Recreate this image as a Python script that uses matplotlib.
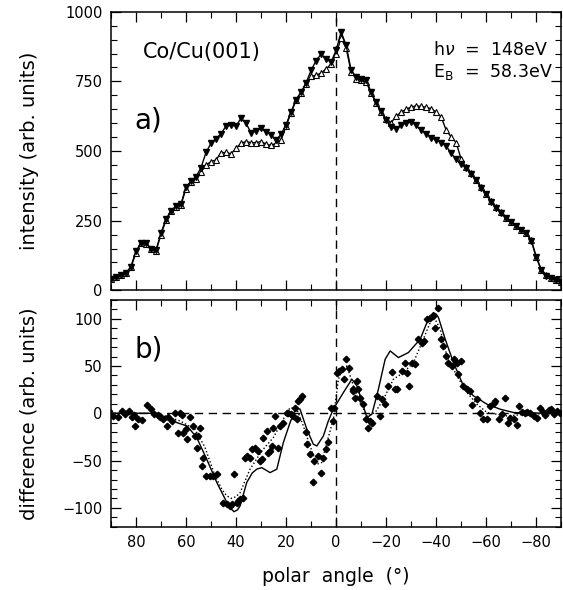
import numpy as np
import matplotlib
matplotlib.use('Agg')
import matplotlib.pyplot as plt
from matplotlib.ticker import MultipleLocator

# panel a): intensity vs polar angle, sampled every 2 degrees from 90 to -90
angle = np.arange(90, -91, -2)
int_down = [40, 47, 55, 62, 85, 140, 170, 170, 150, 143,
            205, 255, 285, 303, 310, 370, 392, 408, 440, 495,
            528, 545, 562, 590, 592, 590, 618, 600, 565, 572,
            582, 570, 558, 540, 560, 595, 640, 685, 712, 745,
            790, 825, 848, 830, 820, 862, 928, 880, 790, 765,
            760, 755, 712, 675, 642, 612, 585, 580, 595, 600,
            605, 592, 575, 562, 548, 540, 530, 518, 492, 470,
            455, 438, 418, 395, 368, 345, 318, 297, 278, 258,
            245, 230, 216, 205, 178, 118, 72, 53, 44, 37,
            30]
int_up = [40, 46, 54, 61, 82, 135, 168, 167, 148, 141,
          200, 252, 283, 300, 307, 365, 388, 400, 425, 450,
          462, 468, 494, 495, 490, 510, 528, 534, 530, 530,
          534, 525, 520, 528, 540, 590, 638, 682, 708, 740,
          768, 772, 780, 795, 812, 850, 905, 870, 785, 760,
          755, 748, 708, 672, 640, 615, 602, 625, 640, 650,
          658, 662, 660, 657, 652, 640, 622, 575, 550, 530,
          470, 442, 420, 397, 370, 347, 320, 298, 280, 260,
          246, 232, 218, 206, 180, 120, 74, 55, 45, 38,
          31]

# panel b): measured difference
diff_angle = [90.7, 89.1, 87.1, 85.7, 84.4, 82.7, 81.7, 80.8, 80.4, 79.1,
              77.7, 75.7, 74.1, 72.8, 71.1, 70.4, 69.3, 67.7, 67.1, 65.7,
              64.4, 63.1, 62.4, 61.7, 61.1, 60.0, 59.5, 58.4, 57.1, 56.4,
              55.7, 55.1, 54.4, 53.7, 53.1, 52.0, 50.4, 49.1, 47.5, 45.1,
              43.7, 42.4, 41.7, 40.8, 39.7, 39.1, 38.4, 37.1, 36.4, 35.7,
              34.4, 33.7, 32.4, 31.1, 30.4, 29.7, 29.1, 27.7, 27.1, 26.4,
              25.7, 25.3, 24.4, 23.1, 22.4, 21.1, 19.7, 19.1, 18.2, 17.1,
              16.4, 15.7, 15.1, 14.4, 13.7, 12.2, 11.7, 10.4, 9.3, 8.8,
              7.1, 6.1, 5.1, 4.0, 3.1, 2.1, 1.1, 0.8, -0.5, -1.3,
              -2.3, -3.3, -4.0, -5.3, -6.7, -6.9, -7.6, -8.3, -8.9, -9.6,
              -10.9, -12.0, -12.9, -13.6, -14.3, -16.5, -17.6, -18.3, -19.6, -20.9,
              -22.3, -23.6, -24.5, -26.3, -27.6, -28.3, -29.3, -30.3, -31.6, -32.9,
              -34.3, -35.2, -36.3, -37.6, -38.9, -39.6, -40.9, -41.9, -42.9, -44.0,
              -44.9, -46.3, -47.2, -48.3, -48.9, -49.9, -50.9, -52.3, -53.6, -54.3,
              -56.3, -57.6, -58.9, -60.3, -61.6, -62.9, -63.6, -64.9, -66.3, -67.6,
              -68.5, -69.6, -70.9, -72.2, -72.9, -74.2, -75.6, -76.2, -77.6, -78.9,
              -80.2, -81.6, -82.6, -83.6, -84.9, -85.9, -86.9, -88.2, -89.3]
diff_value = [2.5, -2.8, -3.5, 2.5, -1.0, 2.5, -3.5, -2.1, -13.3, -6.3,
              -7.0, 9.0, 5.0, -1.0, -2.0, -3.5, -6.3, -13.3, -3.5, -8.1,
              0.0, -20.4, 0.0, -2.1, -20.4, -16.9, -27.4, -3.5, -13.3, -23.9,
              -36.2, -23.9, -15.1, -55.6, -46.8, -66.2, -66.2, -66.2, -64.0, -94.4,
              -96.1, -97.9, -96.1, -64.4, -94.4, -92.6, -90.8, -89.1, -46.8, -45.0,
              -46.8, -38.0, -36.2, -39.8, -50.3, -48.6, -25.7, -18.6, -41.5, -39.8,
              -34.5, -15.1, -2.8, -36.2, -13.3, -9.8, 0.7, 0.7, -1.0, -2.8,
              6.0, -6.3, 13.1, 14.8, 18.4, -19.5, -32.7, -43.3, -72.5, -50.3,
              -45.0, -63.4, -46.8, -37.3, -30.2, 6.0, -8.1, 6.0, 43.0, 44.8,
              46.5, 36.7, 57.1, 48.3, 25.4, 23.6, 16.6, 34.2, 25.4, 16.6,
              9.6, -6.3, -15.1, -8.1, -9.8, 18.4, -2.8, 14.8, 9.6, 28.9,
              43.7, 25.4, 25.4, 44.8, 53.6, 43.0, 28.9, 53.6, 51.8, 78.3,
              74.7, 76.5, 99.4, 101.2, 102.9, 90.6, 111.7, 78.3, 71.2, 60.6,
              53.6, 50.1, 57.1, 53.6, 41.3, 55.4, 28.9, 25.4, 23.6, 8.5,
              14.8, 0.8, -5.6, -5.6, 7.8, 11.3, 13.1, -5.6, -1.0, 16.6,
              -9.8, -4.5, -6.3, -12.6, 7.8, 1.5, 0.0, 1.5, 0.8, -2.8,
              -4.5, 6.0, 1.5, -2.1, 3.6, 4.8, -1.0, 2.5, 0.8]

# panel b): calculated curves
theo_solid_angle = [90, 80, 72, 67.7, 63.7, 59.7, 58.4, 55.7, 51.7, 47.7,
                    43.7, 42.3, 40.8, 39.4, 38.4, 35.7, 33.5, 31.7, 29.7, 26.4,
                    23.7, 21.1, 18.4, 16.0, 14.4, 11.7, 9.1, 7.7, 5.1, 3.1,
                    1.1, -2.9, -6.3, -8.3, -10.3, -12.3, -14.3, -16.9, -19.6, -21.6,
                    -24.9, -28.9, -33.6, -36.3, -37.7, -38.9, -40.1, -40.9, -43.6, -46.9,
                    -50.9, -54.9, -60.3, -65.6, -70.9, -78.9, -90]
theo_solid_value = [0, 0, 0, -4.5, -9.8, -13.3, -17, -25.7, -48.6, -73,
                    -94, -100, -104, -102, -98, -73, -63, -59, -57.4, -62.7,
                    -59, -31, -9.8, 6, 4.3, -16.9, -32.7, -34.5, -24, -8,
                    4.3, 21.9, 36, 29, 13, -4.5, -1, 25.4, 57.1, 65.9,
                    58.9, 64.2, 78.3, 95.9, 103, 106.4, 104.5, 101.2, 78.3, 53.6,
                    28.9, 18.4, 9.6, 4.3, 0.8, 0.3, 0]
theo_dot_angle = [90, 72, 70.4, 62.4, 56.4, 52.4, 48.4, 45.5, 43.7, 41.7,
                  40.0, 38.4, 34.4, 29.7, 25.1, 21.1, 18.4, 15.7, 13.1, 10.4,
                  7.8, 5.8, 3.7, 1.1, -0.9, -2.5, -4.3, -6.9, -9.6, -12.3,
                  -15.6, -18.9, -22.9, -26.9, -30.9, -34.3, -37.6, -38.9, -41.6, -44.3,
                  -48.3, -52.3, -56.3, -60.3, -68.3, -76.2, -90]
theo_dot_value = [0, 0, -1, -8, -17, -36, -66, -81, -87.3, -90,
                  -88, -84, -59, -39.8, -25.7, -6.3, 6, 4.3, -13.3, -34.5,
                  -53.8, -52.1, -31, -6.3, 36, 46, 50, 29, 11.3, -2.8,
                  0.8, 14.8, 36, 43, 53.6, 74.7, 95.9, 102.9, 88.8, 60.6,
                  39.5, 21.9, 9.6, 0.8, -2.8, -1, 0]

plt.rcParams['font.family'] = 'DejaVu Sans'
fig = plt.figure(figsize=(5.63, 5.9), dpi=100)
ax1 = fig.add_axes([0.197, 0.508, 0.800, 0.472])
ax2 = fig.add_axes([0.197, 0.107, 0.800, 0.385])

ax1.plot(angle, int_up, color='black', lw=1, marker='^', ms=3.8,
         mfc='white', mec='black', mew=0.8)
ax1.plot(angle, int_down, color='black', lw=1, marker='v', ms=4.2,
         mfc='black', mec='black')
ax1.axvline(0, color='black', lw=1, ls=(0, (6, 4)))
ax1.set_ylim(0, 1000)
ax1.yaxis.set_major_locator(MultipleLocator(250))
ax1.yaxis.set_minor_locator(MultipleLocator(50))
ax1.set_ylabel('intensity (arb. units)', fontsize=14)
ax1.text(0.071, 0.856, 'Co/Cu(001)', transform=ax1.transAxes, fontsize=15,
         va='center')
ax1.text(0.053, 0.61, 'a)', transform=ax1.transAxes, fontsize=20, va='center')
ax1.text(0.716, 0.863, r'h$\nu$  =  148eV', transform=ax1.transAxes,
         fontsize=12.5, va='center')
ax1.text(0.716, 0.784, r'E$_{\rm B}$  =  58.3eV', transform=ax1.transAxes,
         fontsize=12.5, va='center')
ax1.tick_params(labelbottom=False)

ax2.plot(theo_solid_angle, theo_solid_value, color='black', lw=1)
ax2.plot(theo_dot_angle, theo_dot_value, color='black', lw=1, ls=(0, (1, 1.6)))
ax2.plot(diff_angle, diff_value, ls='none', marker='D', ms=3.3, color='black')
ax2.axvline(0, color='black', lw=1, ls=(0, (6, 4)))
ax2.axhline(0, color='black', lw=1, ls=(0, (6, 4)))
ax2.set_ylim(-120, 120)
ax2.yaxis.set_major_locator(MultipleLocator(50))
ax2.yaxis.set_minor_locator(MultipleLocator(10))
ax2.set_ylabel('difference (arb. units)', fontsize=14)
ax2.set_xlabel('polar  angle  (°)', fontsize=13.5, labelpad=12)
ax2.text(0.053, 0.78, 'b)', transform=ax2.transAxes, fontsize=20, va='center')

for ax in (ax1, ax2):
    ax.set_xlim(90, -90)
    ax.xaxis.set_major_locator(MultipleLocator(20))
    ax.xaxis.set_minor_locator(MultipleLocator(10))
    ax.tick_params(which='both', direction='in', top=True, right=True,
                   labelsize=10.5, pad=6)
    ax.tick_params(which='major', length=7, width=0.9)
    ax.tick_params(which='minor', length=4, width=0.8)
    ax.yaxis.set_label_coords(-0.16, 0.5)
    for s in ax.spines.values():
        s.set_linewidth(1.1)

fig.savefig('out.png', dpi=100)
